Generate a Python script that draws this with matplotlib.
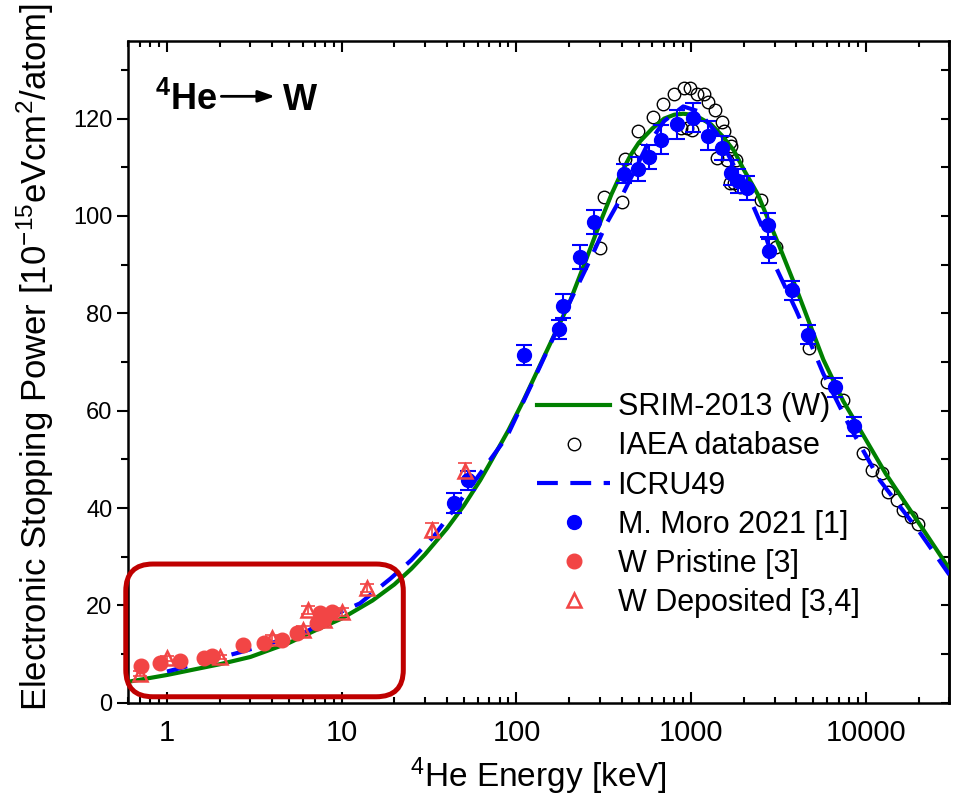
import matplotlib.pyplot as plt
from matplotlib.patches import FancyBboxPatch
from matplotlib.ticker import FixedLocator, NullFormatter, LogLocator

plt.rcParams['font.family'] = ['Liberation Sans', 'DejaVu Sans']
plt.rcParams['mathtext.fontset'] = 'custom'
plt.rcParams['mathtext.rm'] = 'Liberation Sans'
plt.rcParams['mathtext.bf'] = 'Liberation Sans:bold'
plt.rcParams['mathtext.default'] = 'regular'

# SRIM-2013 curve (keV, 1e-15 eV cm2/atom)
srim_e = [0.6, 1, 2, 3, 5, 7, 10, 15, 20, 25, 30, 40, 50, 62, 70, 90, 110, 150,
          200, 250, 300, 350, 400, 450, 500, 600, 700, 800, 900, 1000, 1100,
          1300, 1500, 1750, 2000, 2400, 3200, 4000, 5700, 7400, 10000, 13000,
          20000, 30000]
srim_s = [4.3, 5.7, 7.9, 9.4, 12.3, 14.8, 17.3, 21.0, 24.3, 27.5, 30.5, 35.8,
          40.5, 45.7, 49.0, 56.0, 62.2, 72.5, 82.0, 91.0, 98.5, 104.5, 109.0,
          112.5, 115.0, 118.0, 120.0, 120.8, 121.0, 120.8, 120.3, 118.8, 116.5,
          113.5, 109.5, 104.5, 93.7, 85.0, 70.5, 62.0, 54.0, 47.0, 37.0, 27.5]

# ICRU49 curve
icru_e = [1.0, 1.8, 2.7, 4, 6.3, 9, 12.7, 19, 25, 34, 50, 88, 136, 200, 264,
          327, 400, 550, 700, 900, 1100, 1400, 2000, 2600, 3050, 4000, 4800,
          5700, 8000, 12000, 20500, 30000]
icru_s = [6.4, 8.8, 10.5, 12.3, 14.6, 18.0, 20.4, 25.5, 29.3, 34.4, 42.5, 54.6,
          69.0, 82.0, 91.0, 98.4, 104.0, 114.0, 119.5, 122.5, 121.5, 117.0,
          106.5, 97.0, 89.5, 80.5, 74.0, 67.6, 57.0, 45.7, 34.8, 26.3]

# IAEA database
iaea_e = [302, 317, 400, 419, 493, 506, 608, 688, 797, 872, 907, 944, 984, 1012,
          1085, 1186, 1242, 1360, 1400, 1496, 1540, 1595, 1668, 1670, 1700, 1749,
          1800, 1900, 2520, 3056, 4744, 5990, 7400, 9600, 10880, 12320, 13450,
          14960, 16350, 18160, 19740]
iaea_s = [93.4, 103.8, 102.9, 111.6, 117.4, 113.5, 120.3, 123.1, 125.1, 118.0,
          126.2, 118.0, 126.2, 117.6, 125.0, 125.1, 123.4, 121.7, 112.0, 119.3,
          117.4, 111.4, 106.7, 115.2, 114.3, 106.7, 111.4, 106.0, 103.2, 93.6,
          72.8, 65.9, 62.2, 51.2, 47.8, 47.1, 43.3, 41.6, 39.6, 38.2, 36.8]

# M. Moro 2021 [1]
moro_e = [44, 53, 111, 176, 184, 232, 278, 410, 498, 573, 670, 826, 1023, 1243,
          1496, 1683, 1842, 2086, 2756, 2800, 3750, 4660, 6630, 8530]
moro_s = [41.0, 45.7, 71.4, 76.7, 81.5, 91.6, 98.8, 108.7, 109.7, 112.1, 115.7,
          118.8, 120.2, 116.5, 114.0, 108.9, 107.2, 105.8, 98.2, 92.8, 84.7, 75.6,
          64.8, 56.8]
moro_err = [2.0, 2.0, 2.0, 2.0, 2.5, 2.5, 2.5, 2.0, 2.5, 2.5, 3.0, 3.0, 3.0, 3.0,
            2.5, 2.5, 2.5, 2.5, 2.5, 2.5, 2.0, 2.0, 2.0, 2.0]

# W Pristine [3]
prist_e = [0.71, 0.91, 1.18, 1.62, 1.81, 2.74, 3.57, 4.55, 5.53, 7.2, 7.5, 7.87, 8.8]
prist_s = [7.5, 8.1, 8.6, 9.1, 9.7, 11.8, 12.2, 12.9, 14.4, 16.3, 18.4, 17.3, 18.7]

# W Deposited [3,4]
depo_e = [0.70, 1.0, 2.0, 3.99, 6.04, 6.45, 7.87, 10, 14.0, 33, 51]
depo_s = [6.0, 9.1, 9.4, 13.2, 14.9, 19.0, 17.0, 18.7, 23.5, 35.5, 47.7]
depo_err = [0.5, 0.5, 0.5, 0.8, 0.8, 0.8, 0.8, 0.8, 0.8, 1.5, 1.5]

green = '#008000'
blue = '#0000ff'
red = '#f24545'

fig = plt.figure(figsize=(9.57, 8), dpi=100)
ax = fig.add_axes([0.134, 0.1216, 0.858, 0.8275])

ax.plot(iaea_e, iaea_s, 'o', mfc='none', mec='black', ms=9, mew=1.0, zorder=2,
        label='IAEA database')
ax.plot(srim_e, srim_s, '-', color=green, lw=3, zorder=3, label='SRIM-2013 (W)')
ax.plot(icru_e, icru_s, '--', color=blue, lw=3, dashes=(5, 3), zorder=4,
        label='ICRU49')
ax.errorbar(moro_e, moro_s, yerr=moro_err, fmt='none', ecolor=blue, elinewidth=1.5,
            capsize=6, capthick=1.5, zorder=5)
ax.plot(moro_e, moro_s, 'o', color=blue, ms=10, zorder=6, label='M. Moro 2021 [1]')
ax.errorbar(depo_e, depo_s, yerr=depo_err, fmt='none', ecolor=red, elinewidth=1.2,
            capsize=5, capthick=1.2, zorder=5)
ax.plot(depo_e, depo_s, '^', mfc='none', mec=red, ms=10, mew=1.8, zorder=7,
        label='W Deposited [3,4]')
ax.plot(prist_e, prist_s, 'o', color=red, ms=10.5, zorder=6, label='W Pristine [3]')

ax.set_xscale('log')
ax.set_xlim(0.6, 30000)
ax.set_ylim(0, 136)

ax.xaxis.set_major_locator(FixedLocator([1, 10, 100, 1000, 10000]))
ax.xaxis.set_minor_locator(LogLocator(base=10, subs=range(2, 10)))
ax.xaxis.set_minor_formatter(NullFormatter())
ax.set_xticklabels(['1', '10', '100', '1000', '10000'])
ax.set_yticks(range(0, 121, 20))
ax.set_yticks(range(10, 136, 20), minor=True)

ax.tick_params(axis='x', which='both', direction='in', top=True, width=1.5,
               labelsize=21, pad=12)
ax.tick_params(axis='x', which='major', length=8)
ax.tick_params(axis='x', which='minor', length=4)
ax.tick_params(axis='y', which='both', direction='out', width=1.5, labelsize=17)
ax.tick_params(axis='y', which='major', length=8)
ax.tick_params(axis='y', which='minor', length=5)
for s in ax.spines.values():
    s.set_linewidth(1.8)

right = ax.secondary_yaxis('right')
right.set_yticks(range(0, 136, 10))
right.tick_params(direction='in', length=6, width=1.5, labelright=False)
right.spines['right'].set_linewidth(1.8)

ax.set_xlabel(r'$^{4}$He Energy [keV]', fontsize=24, labelpad=6)
ax.set_ylabel(r'Electronic Stopping Power [10$^{-15}$eVcm$^{2}$/atom]',
              fontsize=25)
ax.yaxis.set_label_coords(-0.088, 0.522)

handles, labels = ax.get_legend_handles_labels()
order = ['SRIM-2013 (W)', 'IAEA database', 'ICRU49', 'M. Moro 2021 [1]',
         'W Pristine [3]', 'W Deposited [3,4]']
hl = dict(zip(labels, handles))
ax.legend([hl[k] for k in order], order, loc='upper left',
          bbox_to_anchor=(0.498, 0.469), frameon=False, fontsize=22,
          handlelength=2.4, handletextpad=0.23, labelspacing=0.3,
          borderpad=0, borderaxespad=0)

# reaction label
ax.text(0.032, 0.895, r'$\mathbf{^{4}}$He', transform=ax.transAxes, fontsize=26,
        fontweight='bold', va='baseline')
ax.text(0.188, 0.895, 'W', transform=ax.transAxes, fontsize=26,
        fontweight='bold', va='baseline')
ax.annotate('', xy=(0.182, 0.916), xytext=(0.11, 0.916), xycoords='axes fraction',
            arrowprops=dict(arrowstyle='-|>,head_length=1.0,head_width=0.35',
                            color='black', lw=2))

box = FancyBboxPatch((-0.003, 0.009), 0.338, 0.2005,
                     boxstyle='round,pad=0,rounding_size=0.033',
                     mutation_aspect=1.24, transform=ax.transAxes,
                     fill=False, edgecolor='#bf0000', lw=3.6, clip_on=False,
                     zorder=10)
ax.add_patch(box)

fig.savefig('out.png', dpi=100)
